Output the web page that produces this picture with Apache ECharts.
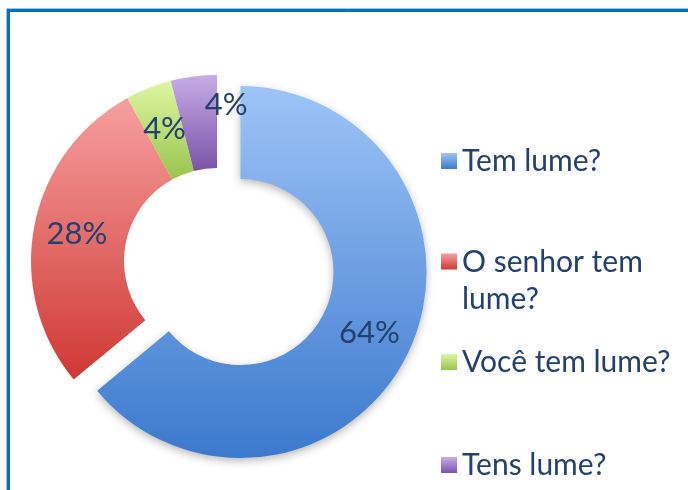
<!DOCTYPE html>
<html>
<head>
<meta charset="utf-8">
<script src="https://cdn.jsdelivr.net/npm/echarts@6/dist/echarts.min.js"></script>
<style>
html,body{margin:0;padding:0;background:#fff;}
#c{width:688px;height:490px;}
</style>
</head>
<body>
<div id="c"></div>
<script>
var categories = ['Tem lume?', 'O senhor tem lume?', 'Você tem lume?', 'Tens lume?'];
var values = [64, 28, 4, 4];
var labels = ['64%', '28%', '4%', '4%'];

var topColors = ['#9EC4F7', '#F6A09F', '#DFF5A3', '#C6ADE6'];
var bottomColors = ['#3C79CD', '#CF3834', '#98C44C', '#7A53A9'];

function grad(i, end) {
  return new echarts.graphic.LinearGradient(0, 0, 0, 1, [
    {offset: 0, color: topColors[i]},
    {offset: end || 1, color: bottomColors[i]}
  ]);
}

var chart = echarts.init(document.getElementById('c'), null, {renderer: 'canvas'});

var data = categories.map(function (name, i) {
  var d = {
    name: name,
    value: values[i],
    itemStyle: {color: grad(i)},
    label: {formatter: labels[i]}
  };
  if (i === 0) {
    d.selected = true;
    d.itemStyle.shadowBlur = 8;
    d.itemStyle.shadowColor = 'rgba(0,0,0,0.28)';
    d.itemStyle.shadowOffsetY = 3;
  }
  if (i === 3) {
    d.label.offset = [27, -15];
  }
  return d;
});

var legendTops = [142.5, 243.5, 343.5, 446.5];
var textStyle = {
  fontFamily: 'Lato',
  fontSize: 30,
  lineHeight: 37,
  color: '#23406E'
};

var legends = categories.map(function (name, i) {
  var item = {name: name, itemStyle: {color: grad(i)}};
  var lg = {
    orient: 'vertical',
    left: 441,
    top: legendTops[i],
    itemWidth: 16,
    itemHeight: 16,
    itemGap: 0,
    padding: 0,
    icon: 'rect',
    selectedMode: false,
    textStyle: Object.assign({}, textStyle, {padding: [0, 0, 0, 0]}),
    data: [item]
  };
  if (i === 1) {
    lg.icon = 'path://M0,0h16v16h-16z M7.95,53.95h0.1v0.1h-0.1z';
    lg.itemHeight = 54;
    item.itemStyle = {color: grad(i, 0.3)};
    lg.textStyle.width = 200;
    lg.textStyle.overflow = 'break';
  }
  return lg;
});

chart.setOption({
  animation: false,
  graphic: [
    {type: 'rect', shape: {x: 6.5, y: 8.5, width: 720, height: 520}, style: {fill: 'none', stroke: '#9CC8EE', lineWidth: 1}},
    {type: 'rect', shape: {x: 8.5, y: 10.5, width: 720, height: 520}, style: {fill: 'none', stroke: '#0A6FC1', lineWidth: 3}}
  ],
  legend: legends,
  series: [{
    type: 'pie',
    center: [217, 261],
    radius: [93, 186],
    startAngle: 90,
    clockwise: true,
    selectedMode: 'single',
    selectedOffset: 26,
    avoidLabelOverlap: false,
    emphasis: {disabled: true},
    select: {itemStyle: {borderWidth: 0}},
    label: {
      show: true,
      position: 'inside',
      fontFamily: 'Lato',
      fontSize: 31,
      color: '#23406E'
    },
    labelLine: {show: false},
    itemStyle: {borderWidth: 0},
    data: data
  }]
});
</script>
</body>
</html>
